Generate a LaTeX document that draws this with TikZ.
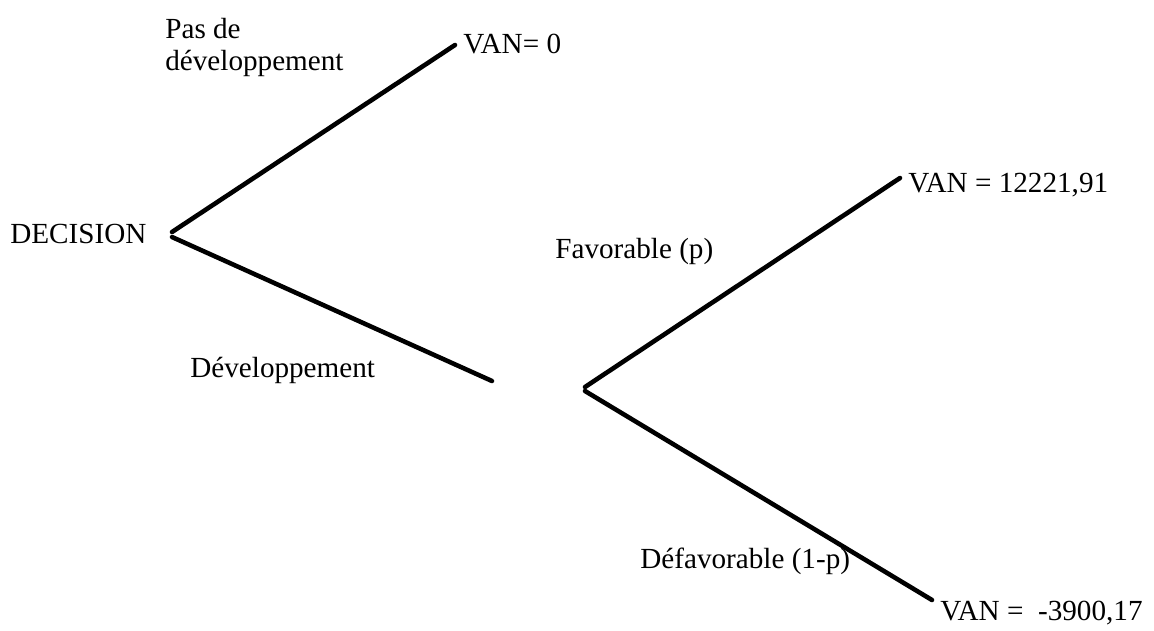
\documentclass[tikz,border=0pt]{standalone}
\usepackage{fontspec}
\setmainfont{Liberation Serif}
\usetikzlibrary{positioning}

\begin{document}
\begin{tikzpicture}[x=0.02cm, y=-0.02cm, every node/.style={font=\fontsize{16.6}{19}\selectfont, inner sep=0pt},
			t/.style={anchor=base west},
			br/.style={line width=2.6pt, line cap=round}]
			\useasboundingbox (0,0) rectangle (1154,630);
			% points of the tree
			\coordinate (d1) at (172,232);
			\coordinate (d2) at (172,237);
			\coordinate (p) at (455,45);
			\coordinate (v) at (492,381);
			\coordinate (c1) at (585,387);
			\coordinate (c2) at (585,391);
			\coordinate (f) at (900,178);
			\coordinate (u) at (932,600);
			\foreach \a/\b in {d1/p, d2/v, c1/f, c2/u} \draw[br] (\a) -- (\b);
			% texts
			\node[t] (dec) at (10,243) {DECISION};
			\node[t] (pas) at (165,38) {Pas de};
			\node[t] (pasb) at (165,70) {développement};
			\node[t] (van0) at (463,53) {VAN= 0};
			\node[t] (dev) at (190,377) {Développement};
			\node[t] (fav) at (555,258) {Favorable (p)};
			\node[t] (van1) at (908,192) {VAN = 12221,91};
			\node[t] (def) at (640,568) {Défavorable (1-p)};
			\node[t] (van2) at (940,620) {VAN = \ -3900,17};
		\end{tikzpicture}
\end{document}
